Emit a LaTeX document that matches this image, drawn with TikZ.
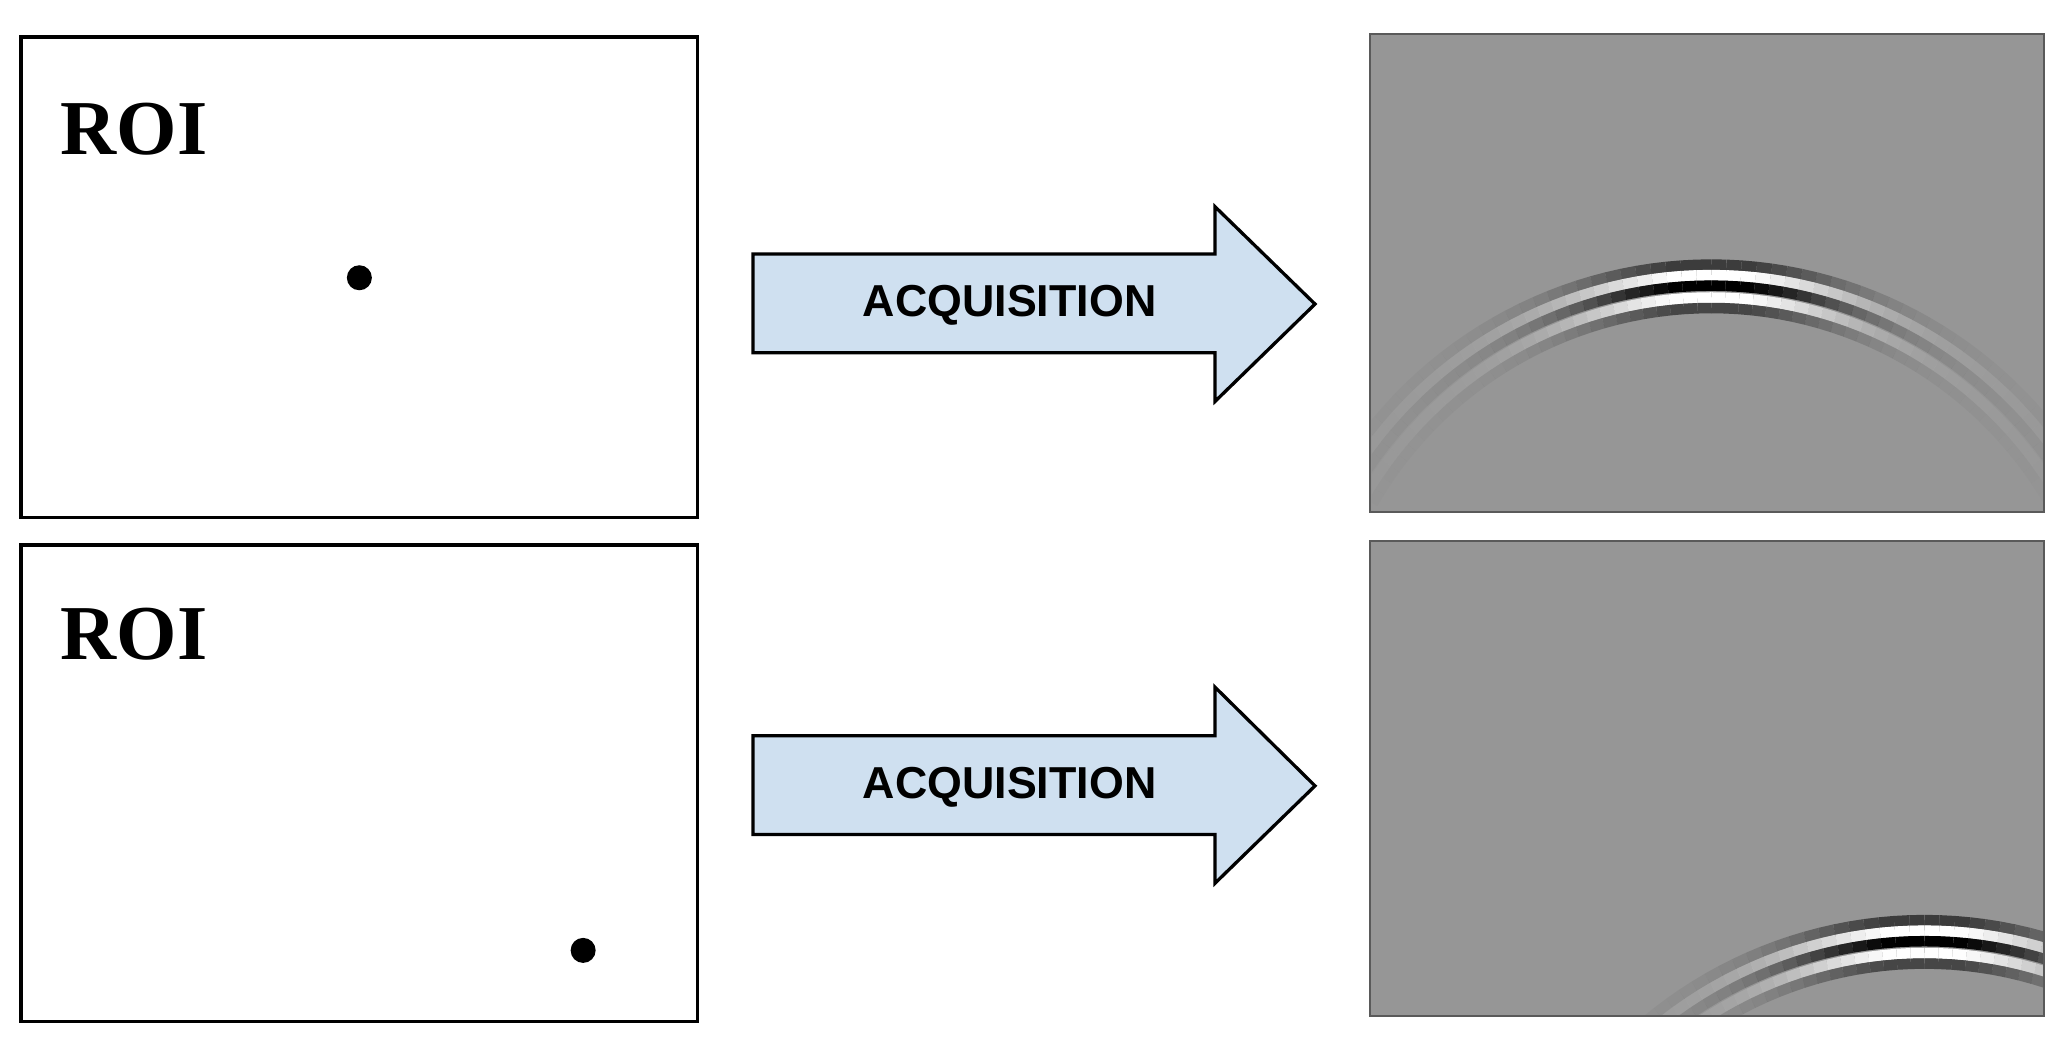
\documentclass[tikz,border=0pt]{standalone}
\usepackage{fontspec}
\setmainfont{Liberation Serif}
\newfontfamily\sansf{Liberation Sans}
\begin{document}
\begin{tikzpicture}[x=1pt,y=-1pt,
  roi/.style={draw=black,line width=2.5pt,fill=white},
  roilabel/.style={anchor=west,font=\fontsize{59}{59}\selectfont\bfseries,inner sep=0},
  dot/.style={fill=black,circle,minimum size=19pt,inner sep=0},
  arr/.style={draw=black,line width=2.5pt,fill={rgb,255:red,207;green,224;blue,240},line join=miter},
  arrlabel/.style={font=\sansf\fontsize{34}{34}\selectfont\bfseries,inner sep=0},
  panel/.style={draw={rgb,255:red,90;green,90;blue,90},line width=1.5pt,fill={rgb,255:red,150;green,150;blue,150}}]
\useasboundingbox (0,0) rectangle (1568,792);
\fill[white] (0,0) rectangle (1568,792);
% left boxes
\draw[roi] (16,28) rectangle (530,393);
\draw[roi] (16,414) rectangle (530,776);
\node[roilabel] (roi1) at (46,98) {ROI};
\node[roilabel] (roi2) at (46,482) {ROI};
\node[dot] (d1) at (273,211) {};
\node[dot] (d2) at (443,722) {};
% arrows
\draw[arr] (572,193) -- (923,193) -- (923,157) -- (999,231) -- (923,305) -- (923,268) -- (572,268) -- cycle;
\draw[arr] (572,559) -- (923,559) -- (923,522) -- (999,597) -- (923,671) -- (923,634) -- (572,634) -- cycle;
\node[arrlabel] (a1) at (767,232) {ACQUISITION};
\node[arrlabel] (a2) at (767,598) {ACQUISITION};
% panels
\def\waves#1#2{%
  \foreach \o/\c in {0/60,8/255,16/0,25/255,33/70}{%
    \foreach \a in {-60,-58,...,58}{%
      \pgfmathsetmacro\op{0.95*exp(-1*(\a+1)*(\a+1)/300)+0.12*exp(-1*(\a+1)*(\a+1)/2000)}%
      \pgfmathsetmacro\r{330-\o}%
      \definecolor{bc}{RGB}{\c,\c,\c}%
      \draw[bc,line width=8pt,opacity=\op] ({#1+\r*sin(\a)},{#2+330-\r*cos(\a)}) -- ({#1+\r*sin(\a+2)},{#2+330-\r*cos(\a+2)});
    }}}
\draw[panel] (1041,26) rectangle (1553,389);
\begin{scope}
\clip (1042,27) rectangle (1552,388);
\waves{1300}{201}
\end{scope}
\draw[panel,fill=none] (1041,26) rectangle (1553,389);
\draw[panel] (1041,411) rectangle (1553,772);
\begin{scope}
\clip (1042,412) rectangle (1552,771);
\waves{1462}{699}
\end{scope}
\draw[panel,fill=none] (1041,411) rectangle (1553,772);
\end{tikzpicture}
\end{document}
